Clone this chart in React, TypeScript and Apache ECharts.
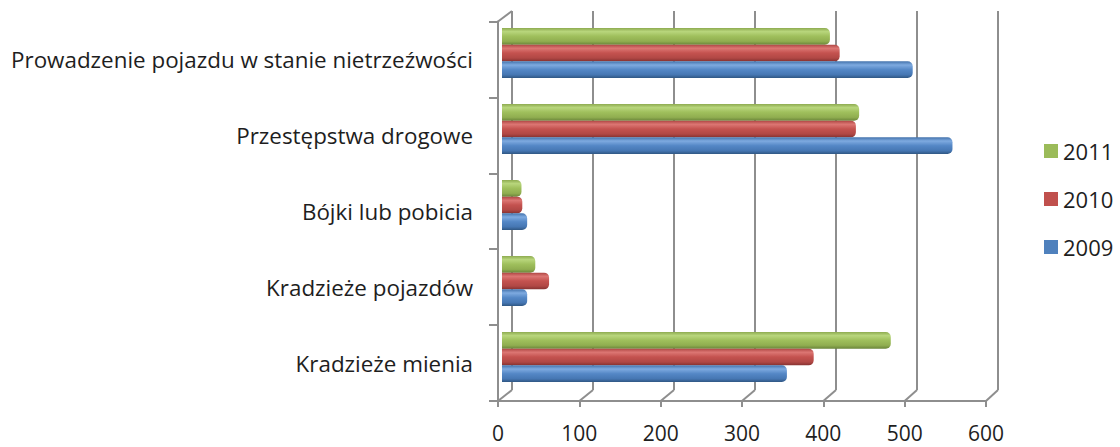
import React, { useEffect, useRef } from "react";
import * as echarts from "echarts";

const categories = [
  "Kradzieże mienia",
  "Kradzieże pojazdów",
  "Bójki lub pobicia",
  "Przestępstwa drogowe",
  "Prowadzenie pojazdu w stanie nietrzeźwości",
];
// series listed in drawing order (ECharts puts the first series at the top of each band)
const seriesNames = ["2011", "2010", "2009"];
const legendNames = ["2011", "2010", "2009"];
const values2009 = [351, 31, 31, 555, 506];
const values2010 = [384, 58, 25, 436, 416];
const values2011 = [479, 41, 24, 440, 404];
const axisMin = 0;
const axisMax = 600;
const axisStep = 100;

const FONT = "'Open Sans', 'Noto Sans', sans-serif";
const GRID_COLOR = "#8e8e8e";
const TEXT_COLOR = "#1e1e1e";

const palette: Record<string, { base: string; stops: string[] }> = {
  "2009": { base: "#4F81BD", stops: ["#4574ad", "#7eaae0", "#5487c6", "#4677b3", "#2f5682"] },
  "2010": { base: "#C0504D", stops: ["#ae4643", "#dc7673", "#c4524f", "#b14845", "#853231"] },
  "2011": { base: "#9BBB59", stops: ["#8daa4f", "#b8d67c", "#9fbf5c", "#90ae50", "#6b863a"] },
};

function grad(name: string) {
  const s = palette[name].stops;
  return {
    type: "linear",
    x: 0,
    y: 0,
    x2: 0,
    y2: 1,
    colorStops: [
      { offset: 0, color: s[0] },
      { offset: 0.22, color: s[1] },
      { offset: 0.5, color: s[2] },
      { offset: 0.8, color: s[3] },
      { offset: 1, color: s[4] },
    ],
  };
}

// layout of the three "planes" of the pseudo-3D frame
const BAR_GRID = { left: 502, top: 15, width: 487, height: 380 };
const BACK_GRID = { left: 512, top: 11, width: 486, height: 379 };
const FRONT_GRID = { left: 498, top: 21.5, width: 488, height: 379.5 };

export default function App() {
  const ref = useRef<HTMLDivElement>(null);

  useEffect(() => {
    if (!ref.current) return;
    const chart = echarts.init(ref.current, null, { renderer: "svg" });
    const dataByName: Record<string, number[]> = {
      "2009": values2009,
      "2010": values2010,
      "2011": values2011,
    };
    const valueAxisBase = {
      type: "value",
      min: axisMin,
      max: axisMax,
      interval: axisStep,
    };
    const option: any = {
      animation: false,
      backgroundColor: "#ffffff",
      grid: [
        { ...BAR_GRID, containLabel: false },
        { ...BACK_GRID, containLabel: false },
        { ...FRONT_GRID, containLabel: false },
      ],
      xAxis: [
        { ...valueAxisBase, gridIndex: 0, show: false },
        {
          ...valueAxisBase,
          gridIndex: 1,
          axisLine: { show: false },
          axisTick: { show: false },
          axisLabel: { show: false },
          splitLine: { show: true, lineStyle: { color: GRID_COLOR, width: 2 } },
        },
        {
          ...valueAxisBase,
          gridIndex: 2,
          axisLine: { show: true, lineStyle: { color: GRID_COLOR, width: 2 } },
          axisTick: { show: true, length: 6, lineStyle: { color: GRID_COLOR, width: 2 } },
          axisLabel: { show: true, fontSize: 21, color: TEXT_COLOR, fontFamily: FONT, margin: 21 },
          splitLine: { show: false },
        },
      ],
      yAxis: [
        { type: "category", gridIndex: 0, data: categories, show: false },
        { type: "value", gridIndex: 1, min: 0, max: 1, show: false },
        {
          type: "category",
          gridIndex: 2,
          data: categories,
          axisLine: { show: true, lineStyle: { color: GRID_COLOR, width: 2 } },
          axisTick: { show: true, length: 9, lineStyle: { color: GRID_COLOR, width: 2 } },
          axisLabel: { fontSize: 22.4, color: TEXT_COLOR, fontFamily: FONT, margin: 25 },
          splitLine: { show: false },
        },
      ],
      legend: {
        orient: "vertical",
        left: 1039,
        top: 135,
        itemWidth: 14,
        itemHeight: 14,
        itemGap: 26,
        icon: "rect",
        textStyle: { fontSize: 22, lineHeight: 22, color: TEXT_COLOR, fontFamily: FONT },
        data: legendNames.map((n) => ({
          name: n,
          itemStyle: { color: palette[n].base },
        })),
      },
      series: seriesNames.map((n) => ({
        name: n,
        type: "bar",
        xAxisIndex: 0,
        yAxisIndex: 0,
        data: dataByName[n],
        barGap: "0%",
        barCategoryGap: "34%",
        z: 3,
        itemStyle: {
          color: grad(n),
          borderRadius: [0, 5, 5, 0],
        },
      })),
    };
    chart.setOption(option);

    // pseudo-3D floor / wall connectors computed from the axes' own scales
    const ticks: number[] = [];
    for (let v = axisMin; v <= axisMax; v += axisStep) ticks.push(v);
    const frontBottom = FRONT_GRID.top + FRONT_GRID.height;
    const backBottom = BACK_GRID.top + BACK_GRID.height;
    const lineStyle = { stroke: GRID_COLOR, lineWidth: 2 };
    const elements: any[] = ticks.map((v) => ({
      type: "line",
      z: 1,
      silent: true,
      shape: {
        x1: chart.convertToPixel({ xAxisIndex: 2 }, v) as number,
        y1: frontBottom,
        x2: chart.convertToPixel({ xAxisIndex: 1 }, v) as number,
        y2: backBottom,
      },
      style: lineStyle,
    }));
    elements.push({
      type: "line",
      z: 1,
      silent: true,
      shape: {
        x1: chart.convertToPixel({ xAxisIndex: 2 }, axisMin) as number,
        y1: FRONT_GRID.top,
        x2: chart.convertToPixel({ xAxisIndex: 1 }, axisMin) as number,
        y2: BACK_GRID.top,
      },
      style: lineStyle,
    });
    chart.setOption({ graphic: { elements } });

    return () => chart.dispose();
  }, []);

  return (
    <div
      ref={ref}
      style={{ position: "fixed", left: 0, top: 0, width: 1120, height: 447, background: "#fff" }}
    />
  );
}
